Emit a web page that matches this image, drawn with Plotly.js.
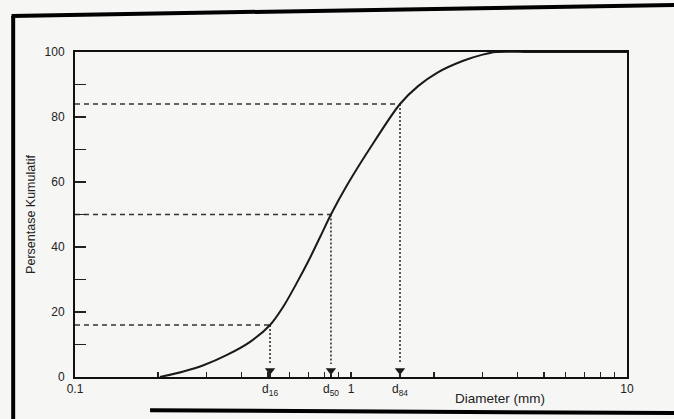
<!DOCTYPE html>
<html>
<head>
<meta charset="utf-8">
<script src="https://cdn.plot.ly/plotly-3.0.1.min.js"></script>
<style>
  html, body { margin: 0; padding: 0; background: #f6f6f4; }
  #chart { width: 674px; height: 419px; }
</style>
</head>
<body>
<div id="chart"></div>
<script>
// Grain size distribution curve (cumulative percent passing vs diameter)
const diameterMm = [0.203, 0.247, 0.292, 0.354, 0.431, 0.509, 0.567, 0.632, 0.704, 0.772, 0.846, 0.967, 1.22, 1.505, 1.75, 2.05, 2.55, 3.0, 3.35, 4.5, 10];
const cumulativePct = [0, 1.7, 3.6, 6.7, 10.8, 16, 21.5, 28.5, 36, 43, 50, 59, 72.7, 84, 89.5, 93.6, 97.3, 99.2, 100, 100, 100];

// Characteristic diameters
const percentiles = [16, 50, 84];
const dValues = [0.509, 0.846, 1.505];
const dLabels = ['d<sub>16</sub>', 'd<sub>50</sub>', 'd<sub>84</sub>'];
const arrowTipPct = 2;

// Axis ticks
const xMinorVals = [0.2, 0.3, 0.4, 0.5, 0.6, 0.7, 0.8, 0.9, 2, 3, 4, 5, 6, 7, 8, 9];
const xMajorVals = [0.1, 1, 10];
const xMajorText = ['0.1', '1', '10'];
const yTickVals = [0, 20, 40, 60, 80, 100];
const yTickText = ['0', '20', '40', '60', '80', '100'];
const yMinorVals = [10, 30, 50, 70, 90];

const ink = '#1a1a1a';
const traces = [];

// Dashed guide lines
percentiles.forEach((p, i) => {
  traces.push({
    x: [0.1, dValues[i]], y: [p, p], mode: 'lines', hoverinfo: 'skip',
    line: { color: '#333', width: 1.5, dash: '5px,4px' }, showlegend: false
  });
  traces.push({
    x: [dValues[i], dValues[i]], y: [p, arrowTipPct + 2], mode: 'lines', hoverinfo: 'skip',
    line: { color: '#333', width: 1.6, dash: '2px,2px' }, showlegend: false
  });
});
// Arrow heads
traces.push({
  x: dValues, y: dValues.map(() => arrowTipPct), mode: 'markers', hoverinfo: 'skip',
  marker: { symbol: 'triangle-down', size: 9, color: ink }, showlegend: false
});
// Main curve
traces.push({
  x: diameterMm, y: cumulativePct, mode: 'lines',
  line: { color: ink, width: 2, shape: 'spline', smoothing: 0.9 }, showlegend: false
});

const fontFam = 'Liberation Sans, Arial, sans-serif';

const layout = {
  width: 674, height: 419,
  margin: { l: 75, r: 47, t: 52, b: 42 },
  paper_bgcolor: '#f6f6f4', plot_bgcolor: '#f6f6f4',
  font: { family: fontFam, size: 12, color: '#222' },
  xaxis: {
    type: 'log', range: [-1, 1],
    tickmode: 'array', tickvals: xMajorVals.concat(dValues), ticktext: xMajorText.concat(dLabels),
    ticks: 'inside', ticklen: 5, tickwidth: 1.2, tickcolor: '#222',
    minor: { tickmode: 'array', tickvals: xMinorVals, ticks: 'inside', ticklen: 5, tickwidth: 1.2, tickcolor: '#222', showgrid: false },
    showgrid: false, zeroline: false,
    showline: true, linecolor: '#111', linewidth: 2, mirror: true,
    tickfont: { size: 12, color: '#222' }
  },
  yaxis: {
    range: [0, 100],
    tickmode: 'array', tickvals: yTickVals, ticktext: yTickText,
    ticks: 'inside', ticklen: 11, tickwidth: 1.5, tickcolor: '#222',
    minor: { tickmode: 'array', tickvals: yMinorVals, ticks: 'inside', ticklen: 11, tickwidth: 1.5, tickcolor: '#222', showgrid: false },
    ticklabelstandoff: 6,
    showgrid: false, zeroline: false,
    showline: true, linecolor: '#111', linewidth: 2, mirror: true,
    tickfont: { size: 12, color: '#222' },
    title: { text: 'Persentase Kumulatif', font: { size: 12.5, color: '#222' }, standoff: 6 }
  },
  annotations: [{
    text: 'Diameter (mm)', xref: 'paper', yref: 'paper',
    x: 0.77, y: -0.065, xanchor: 'center', yanchor: 'middle',
    showarrow: false, font: { size: 13.5, color: '#222' }
  }],
  shapes: [
    { type: 'line', xref: 'paper', yref: 'paper', x0: -0.112, y0: 1.111, x1: -0.112, y1: -0.14, line: { color: '#000', width: 4 } },
    { type: 'line', xref: 'paper', yref: 'paper', x0: -0.115, y0: 1.111, x1: 1.09, y1: 1.145, line: { color: '#000', width: 4 } },
    { type: 'line', xref: 'paper', yref: 'paper', x0: 0.136, y0: -0.102, x1: 1.09, y1: -0.111, line: { color: '#000', width: 4 } }
  ]
};

Plotly.newPlot('chart', traces, layout, { displayModeBar: false, staticPlot: true });
</script>
</body>
</html>
